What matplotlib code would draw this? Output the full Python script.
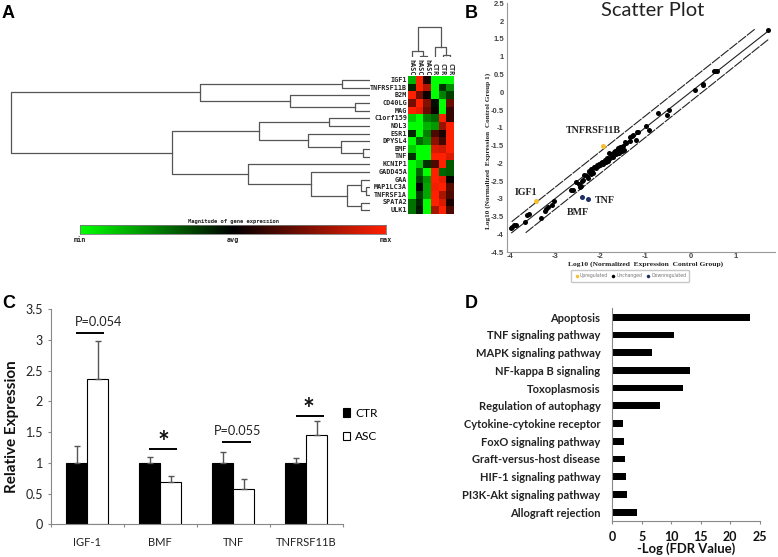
import numpy as np
import matplotlib
matplotlib.use('Agg')
import matplotlib.pyplot as plt
from matplotlib.colors import LinearSegmentedColormap

plt.rcParams['axes.unicode_minus'] = False

W, H = 778, 557

# panel A
genes = ['IGF1', 'TNFRSF11B', 'B2M', 'CD40LG', 'MAG', 'C1orf159', 'NOL3', 'ESR1', 'DPYSL4',
         'BMF', 'TNF', 'KCNIP1', 'GADD45A', 'GAA', 'MAP1LC3A', 'TNFRSF1A', 'SPATA2', 'ULK1']
samples = ['hASC', 'hASC', 'hASC', 'CTR', 'CTR', 'CTR']
heat = [[-0.7, 1, 0.1, -1, -1, -1],
        [-0.15, 1, 0.7, -1, -0.2, -0.55],
        [1, 0.45, 0.05, -1, -0.5, -0.25],
        [0.45, 1, 0.5, -0.05, -1, 0.4],
        [1, 0.9, 0.4, 0.05, -1, 0.2],
        [-0.8, -1, -0.5, -0.4, 1, 0.2],
        [-1, -1, -0.7, -0.6, 0.6, 1],
        [-0.15, -1, -0.5, 0.3, 0.1, 1],
        [-1, -0.4, -0.6, 0.55, 0.25, 1],
        [-0.8, -1, -1, 0.85, 0.8, 1],
        [-0.2, -1, -1, 1, 1, 0.85],
        [-1, -0.8, -0.2, 0.3, 1, -0.35],
        [-1, -0.4, -1, 1, -0.4, -0.35],
        [-1, -0.25, -0.6, 1, 0.9, 0.03],
        [-1, 0, -0.65, 0.95, 1, 0.35],
        [-1, -0.25, -0.65, 1, 0.65, 0.3],
        [-0.45, -0.15, -1, 1, 0.85, 0.1],
        [-0.45, -0.1, -1, 0.65, 1, 0.3]]

# (merge height, child, child), ints are leaves
top_group = (170, (28, 0, 1), (80, 2, (15, 3, 4)))
mid_group = (111, (41, 5, 6), (62, 7, (29, 8, (7, 9, 10))))
low_group = (122, 11, (59, 12, (23, (9, 13, (4, 14, 15)), (9, 16, 17))))
row_tree = (359, top_group, (198, mid_group, low_group))
col_tree = (30, (6, 0, (1.5, 1, 2)), (10, 3, (2, 4, 5)))

# panel B
up_x = [-3.43, -1.94]
up_y = [-3.07, -1.51]
down_x = [-2.41, -2.26]
down_y = [-2.94, -3.0]
same_x = [1.72, 0.51, 0.55, 0.58, 0.1, 0.28, 0.28, -0.48, -0.53, -0.71, -0.99, -0.93, -1.17, -1.19,
          -1.2, -1.27, -1.3, -1.33, -1.35, -1.42, -1.45, -1.47, -1.5, -1.52, -1.55, -1.57, -1.58,
          -1.6, -1.62, -1.63, -1.65, -1.67, -1.7, -1.72, -1.75, -1.78, -1.8, -1.82, -1.85, -1.88,
          -1.9, -1.93, -1.95, -1.98, -2.0, -2.03, -2.05, -2.08, -2.1, -2.13, -2.15, -2.18, -2.2,
          -2.2, -2.22, -2.25, -2.28, -2.3, -2.35, -2.37, -2.4, -2.42, -2.45, -2.47, -2.53, -2.6,
          -2.65, -3.02, -3.07, -3.15, -3.2, -3.22, -3.3, -3.58, -3.62, -3.67, -3.86, -3.9, -3.96,
          -3.97]
same_y = [1.75, 0.6, 0.6, 0.59, 0.07, 0.22, 0.2, -0.5, -0.63, -0.58, -0.95, -1.05, -1.12, -1.13,
          -1.35, -1.2, -1.24, -1.27, -1.37, -1.43, -1.4, -1.62, -1.5, -1.65, -1.6, -1.55, -1.72,
          -1.58, -1.7, -1.62, -1.75, -1.66, -1.68, -1.82, -1.75, -1.85, -1.72, -1.92, -1.85, -1.95,
          -1.9, -2.02, -1.95, -2.0, -2.05, -2.02, -2.08, -2.05, -2.12, -2.1, -2.28, -2.22, -2.3,
          -2.15, -2.25, -2.22, -2.42, -2.36, -2.33, -2.47, -2.5, -2.64, -2.66, -2.57, -2.53, -2.76,
          -2.76, -3.05, -3.18, -3.22, -3.28, -3.35, -3.53, -3.41, -3.44, -3.65, -3.72, -3.74, -3.78,
          -3.82]
fold_lines = [('center', [-3.96, 1.72], [-3.95, 1.72]),
              ('upper', [-3.96, 1.44], [-3.64, 1.79]),
              ('lower', [-3.65, 1.74], [-3.95, 1.5])]

# panel C
markers = ['IGF-1', 'BMF', 'TNF', 'TNFRSF11B']
ctr = [1, 1, 1, 1]
asc = [2.37, 0.69, 0.58, 1.46]
ctr_err = [0.27, 0.1, 0.17, 0.08]
asc_err = [0.61, 0.1, 0.15, 0.22]
sig_text = ['P=0.054', '*', 'P=0.055', '*']
sig_height = [3.12, 1.23, 1.34, 1.755]
sig_shift = [0.15, 0.05, 0.055, 0.03]

# panel D
pathways = ['Apoptosis', 'TNF signaling pathway', 'MAPK signaling pathway', 'NF-kappa B signaling',
            'Toxoplasmosis', 'Regulation of autophagy', 'Cytokine-cytokine receptor',
            'FoxO signaling pathway', 'Graft-versus-host disease', 'HIF-1 signaling pathway',
            'PI3K-Akt signaling pathway', 'Allograft rejection']
fdr = [23.4, 10.45, 6.75, 13.1, 11.95, 8.05, 1.85, 1.95, 2.15, 2.25, 2.45, 4.15]


def ax_px(left, top, right, bottom):
    return fig.add_axes([left / W, 1 - bottom / H, (right - left) / W, (bottom - top) / H])


def draw_tree(ax, node, horizontal):
    # returns leaf position of the node, draws the elbows on the way
    if not isinstance(node, tuple):
        return node, 0
    height, a, b = node
    pa, ha = draw_tree(ax, a, horizontal)
    pb, hb = draw_tree(ax, b, horizontal)
    xs, ys = [ha, height, height, hb], [pa, pa, pb, pb]
    if horizontal:
        ax.plot(xs, ys, color='#555555', lw=0.9)
    else:
        ax.plot(ys, xs, color='#555555', lw=0.9)
    return (pa + pb) / 2, height


fig = plt.figure(figsize=(W / 100, H / 100), dpi=100)
mono = dict(family='DejaVu Sans Mono', weight='bold', color='#222222')
green_red = LinearSegmentedColormap.from_list('gr', ['#00ff00', '#000000', '#ff2000'])

# A
ax = ax_px(408, 76, 454, 214)
ax.imshow(heat, cmap=green_red, vmin=-1, vmax=1, aspect='auto', interpolation='nearest')
ax.axis('off')
for i, g in enumerate(genes):
    ax.text(-0.62, i, g, ha='right', va='center', fontsize=4.9, **mono)
for j, s in enumerate(samples):
    ax.text(j, -0.6, s, ha='center', va='bottom', rotation=270, fontsize=4.9, **mono)

ax = ax_px(0, 76, 370, 214)
draw_tree(ax, row_tree, True)
ax.set_xlim(370, 0)
ax.set_ylim(17.5, -0.5)
ax.axis('off')

ax = ax_px(408, 20, 454, 57)
draw_tree(ax, col_tree, False)
ax.set_xlim(-0.5, 5.5)
ax.set_ylim(0, 37)
ax.axis('off')

ax = ax_px(80, 225, 386, 234)
ax.imshow(np.linspace(-1, 1, 256).reshape(1, -1), cmap=green_red, aspect='auto')
ax.set_xticks([])
ax.set_yticks([])
for sp in ax.spines.values():
    sp.set_color('#777777')
    sp.set_linewidth(0.6)
fig.text(233 / W, 1 - 221 / H, 'Magnitude of gene expression', ha='center', va='center', fontsize=4, **mono)
for x, s in zip([80, 232.5, 386], ['min', 'avg', 'max']):
    fig.text(x / W, 1 - 240 / H, s, ha='center', va='center', fontsize=4.9, **mono)

# B
ax = ax_px(506.7, 3.3, 775, 252.3)
ax.set_xlim(-4.07, 1.87)
ax.set_ylim(-4.5, 2.5)
for name, lx, ly in fold_lines:
    ax.plot(lx, ly, color='#222222', lw=0.8, ls='-' if name == 'center' else (0, (9, 1)))
ax.scatter(same_x, same_y, s=13, color='black', lw=0, label='Unchanged', zorder=3)
ax.scatter(up_x, up_y, s=13, color='#f5c030', lw=0, label='Upregulated', zorder=3)
ax.scatter(down_x, down_y, s=13, color='#1f2f66', lw=0, label='Downregulated', zorder=3)
ax.spines[['top', 'right']].set_visible(False)
ax.spines[['left', 'bottom']].set_color('#999999')
ax.set_xticks([-4, -3, -2, -1, 0, 1])
ax.set_yticks(np.arange(-4.5, 2.6, 0.5))
ax.set_yticklabels(['%g' % v for v in np.arange(-4.5, 2.6, 0.5)])
ax.tick_params(length=0, pad=2, labelsize=5.5, labelcolor='#444444')
ax.tick_params(axis='x', pad=0.5)
for t in ax.get_xticklabels() + ax.get_yticklabels():
    t.set_family('Liberation Sans')
    t.set_fontweight('bold')
serif = dict(family='Liberation Serif', weight='bold', color='#222222')
for x, y, s in [(-2.15, -1.08, 'TNFRSF11B'), (-3.65, -2.81, 'IGF1'), (-1.9, -3.05, 'TNF'), (-2.5, -3.37, 'BMF')]:
    ax.text(x, y, s, ha='center', va='center', fontsize=7.2, **serif)
fig.text(646 / W, 1 - 264.5 / H, 'Log10 (Normalized  Expression  Control Group)', ha='center', va='center', fontsize=5.4, **serif)
fig.text(488 / W, 1 - 151 / H, 'Log10 (Normalized  Expression  Control Group 1)', ha='center', va='center', rotation=90, fontsize=5.25, **serif)
fig.text(653 / W, 1 - 10.5 / H, 'Scatter Plot', ha='center', va='center', fontsize=14.5, family='Lato', color='#222222')
h, l = ax.get_legend_handles_labels()
leg = fig.legend([h[1], h[0], h[2]], [l[1], l[0], l[2]], ncol=3, loc='center', bbox_to_anchor=(630 / W, 1 - 276 / H),
                 fontsize=3.3, labelcolor='#777777', frameon=True, edgecolor='#bbbbbb', borderpad=0.7,
                 handletextpad=0.1, handlelength=1.2, columnspacing=0.6, markerscale=0.7)

# C
ax = ax_px(50.7, 309.3, 343, 524.3)
pos = np.arange(len(markers))
bw = 0.287
err_style = dict(ecolor='#555555', elinewidth=1, capsize=2.4, capthick=1)
ax.bar(pos - bw / 2, ctr, bw, color='black', edgecolor='black', lw=0.8, label='CTR',
       yerr=[[0] * 4, ctr_err], error_kw=err_style)
ax.bar(pos + bw / 2, asc, bw, color='white', edgecolor='black', lw=0.8, label='ASC',
       yerr=[[0] * 4, asc_err], error_kw=err_style)
ax.set_xlim(-0.5, 3.5)
ax.set_ylim(0, 3.5)
ax.set_xticks(np.arange(-0.5, 3.6), minor=False)
ax.set_xticklabels([])
ax.set_xticks(pos, minor=True)
ax.set_xticklabels(markers, minor=True)
ax.set_yticks(np.arange(0, 3.6, 0.5))
ax.set_yticklabels(['%g' % v for v in np.arange(0, 3.6, 0.5)])
ax.tick_params(axis='x', which='minor', length=0, pad=9, labelsize=8, labelcolor='#222222')
ax.tick_params(axis='x', which='major', length=2.5, color='#888888')
ax.tick_params(axis='y', length=2.5, color='#888888', pad=3, labelsize=9, labelcolor='#222222')
for t in ax.get_xticklabels(minor=True) + ax.get_yticklabels():
    t.set_family('Lato')
ax.spines[['top', 'right']].set_visible(False)
ax.spines[['left', 'bottom']].set_color('#888888')
ax.set_ylabel('Relative Expression', fontsize=11, family='Lato', fontweight='bold', color='#111111', labelpad=5, y=0.454)
for i, (s, y, dx) in enumerate(zip(sig_text, sig_height, sig_shift)):
    ax.plot([i - 0.15, i + 0.235], [y, y], color='black', lw=1.4, solid_capstyle='butt')
    if s == '*':
        ax.text(i + dx, y + 0.1, s, ha='center', va='center', fontsize=20, family='Lato', weight='bold', color='#111111')
    else:
        ax.text(i + dx, y + 0.08, s, ha='center', va='bottom', fontsize=9.2, family='Lato', color='#222222')
ax.legend(loc='upper left', bbox_to_anchor=(1.0, 0.543), frameon=False, prop={'family': 'Lato', 'size': 8.6},
          handlelength=0.6, handleheight=0.75, handletextpad=0.4, labelspacing=1.05, borderpad=0, borderaxespad=0)

# D
ax = ax_px(612.3, 308.3, 759.7, 521)
ypos = np.arange(len(pathways))
ax.barh(ypos, fdr, 0.38, color='black')
ax.set_xlim(0, 25)
ax.set_ylim(11.5, -0.5)
ax.set_yticks(ypos)
ax.set_yticklabels(pathways)
ax.set_xticks(range(0, 26, 5))
ax.tick_params(axis='y', length=0, pad=8.5, labelsize=8, labelcolor='#222222')
ax.tick_params(axis='x', length=2.5, color='#888888', pad=5, labelsize=9, labelcolor='#111111')
for t in ax.get_xticklabels() + ax.get_yticklabels():
    t.set_family('Lato')
    t.set_fontweight('bold')
ax.spines[['top', 'right']].set_visible(False)
ax.spines[['left', 'bottom']].set_color('#888888')
ax.set_xlabel('-Log (FDR Value)', fontsize=9.4, family='Lato', fontweight='bold', color='#111111', labelpad=-1)

# panel letters
for x, y, s in [(2, 18, 'A'), (465, 18, 'B'), (2, 308, 'C'), (465, 308, 'D')]:
    fig.text(x / W, 1 - y / H, s, ha='left', va='baseline', fontsize=13, family='Liberation Sans', weight='bold', color='black')

fig.savefig('out.png', dpi=100)
